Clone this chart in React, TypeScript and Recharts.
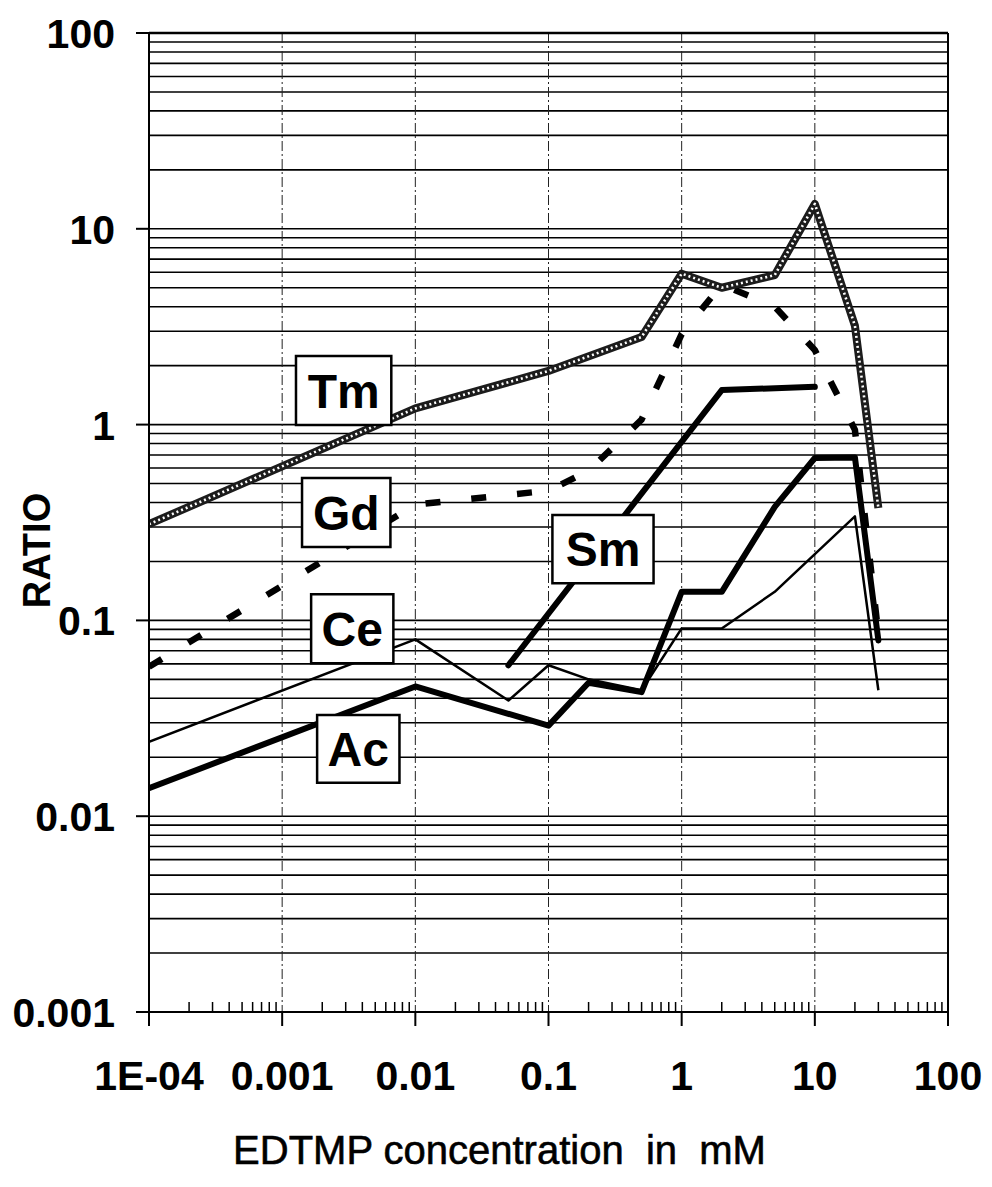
import React from "react";
import {
  CartesianGrid,
  Line,
  LineChart,
  ReferenceArea,
  ReferenceLine,
  XAxis,
  YAxis,
} from "recharts";

const FONT = "'Liberation Sans', Arial, Helvetica, sans-serif";

// axis ticks
const X_MAJOR = [0.0001, 0.001, 0.01, 0.1, 1, 10, 100];
const X_LABELS = ["1E-04", "0.001", "0.01", "0.1", "1", "10", "100"];
const Y_MAJOR = [0.001, 0.01, 0.1, 1, 10, 100];
const Y_LABELS = ["0.001", "0.01", "0.1", "1", "10", "100"];
const MINOR_STEPS = [2, 3, 4, 5, 6, 7, 8, 9];

// series (EDTMP mM -> ratio)
const TM_X = [0.0001, 0.01, 0.1, 0.5, 1, 2, 5, 10, 20, 30];
const TM_Y = [0.31, 1.21, 1.88, 2.8, 5.9, 5.0, 5.8, 13.4, 3.2, 0.375];

const GD_X = [0.0001, 0.01, 0.1, 0.2, 0.5, 1, 2, 5, 10, 20, 30];
const GD_Y = [0.058, 0.39, 0.46, 0.58, 1.06, 2.9, 5.2, 4.0, 2.4, 0.94, 0.085];

const SM_X = [0.05, 2, 10];
const SM_Y = [0.059, 1.5, 1.56];

const CE_X = [0.0001, 0.01, 0.05, 0.1, 0.2, 0.5, 1, 2, 5, 20, 30];
const CE_Y = [0.024, 0.08, 0.039, 0.059, 0.05, 0.044, 0.091, 0.091, 0.14, 0.34, 0.044];

const AC_X = [0.0001, 0.01, 0.1, 0.2, 0.5, 1, 2, 5, 10, 20, 30];
const AC_Y = [0.0139, 0.046, 0.029, 0.048, 0.043, 0.14, 0.14, 0.38, 0.675, 0.68, 0.079];

// series name boxes, in data units
const BOX_NAMES = ["Tm", "Gd", "Ce", "Ac", "Sm"];
const BOX_X = [
  [0.00127, 0.0066],
  [0.00141, 0.0065],
  [0.00165, 0.00684],
  [0.00183, 0.0076],
  [0.107, 0.615],
];
const BOX_Y = [
  [0.995, 2.24],
  [0.237, 0.533],
  [0.0605, 0.136],
  [0.0148, 0.0329],
  [0.155, 0.345],
];

const X_MINOR = X_MAJOR.slice(0, -1).flatMap((d) => MINOR_STEPS.map((m) => m * d));
const X_TICKS = [...X_MAJOR, ...X_MINOR].sort((a, b) => a - b);
const Y_GRID = [...Y_MAJOR, ...Y_MAJOR.slice(0, -1).flatMap((d) => MINOR_STEPS.map((m) => m * d))];

const pts = (xs: number[], ys: number[]) => xs.map((x, i) => ({ x, y: ys[i] }));

function XTick(props: any) {
  const { x, y, payload } = props;
  const i = X_MAJOR.indexOf(payload.value);
  if (i < 0) {
    return <line x1={x} x2={x} y1={y} y2={y - 10} stroke="#000" strokeWidth={1.5} />;
  }
  return (
    <g>
      <line x1={x} x2={x} y1={y} y2={y + 14} stroke="#000" strokeWidth={2} />
      <text x={x} y={y + 78} textAnchor="middle" fontSize={41} fontWeight={700} fontFamily={FONT} fill="#000">
        {X_LABELS[i]}
      </text>
    </g>
  );
}

function YTick(props: any) {
  const { x, y, payload } = props;
  const i = Y_MAJOR.indexOf(payload.value);
  return (
    <g>
      <line x1={x - 13} x2={x} y1={y} y2={y} stroke="#000" strokeWidth={2} />
      <text x={x - 34} y={y + 15} textAnchor="end" fontSize={41} fontWeight={700} fontFamily={FONT} fill="#000">
        {Y_LABELS[i]}
      </text>
    </g>
  );
}

export default function App() {
  return (
    <div style={{ position: "absolute", left: 0, top: 0, background: "#fff" }}>
      <LineChart width={992} height={1187} margin={{ top: 33, right: 44, bottom: 35, left: 0 }}>
        <CartesianGrid
          vertical={false}
          horizontalValues={Y_GRID}
          stroke="#000"
          strokeWidth={1.6}
        />
        <CartesianGrid
          horizontal={false}
          verticalValues={X_MAJOR.slice(1, -1)}
          stroke="#222"
          strokeWidth={1}
          strokeDasharray="10 3 2 3"
        />
        <XAxis
          type="number"
          dataKey="x"
          scale="log"
          domain={[0.0001, 100]}
          allowDataOverflow
          ticks={X_TICKS}
          interval={0}
          tickSize={0}
          tickMargin={0}
          tickLine={false}
          tick={(p: any) => <XTick {...p} />}
          axisLine={{ stroke: "#000", strokeWidth: 2 }}
          height={140}
          label={{
            content: (lp: any) => {
              const vb = lp.viewBox;
              return (
                <text
                  x={vb.x + vb.width / 2 - 49}
                  y={vb.y + 152}
                  textAnchor="middle"
                  fontSize={40}
                  fontFamily={FONT}
                  fill="#000"
                  stroke="#000"
                  strokeWidth={0.6}
                  style={{ whiteSpace: "pre" }}
                >
                  {"EDTMP concentration  in  mM"}
                </text>
              );
            },
          }}
        />
        <YAxis
          type="number"
          scale="log"
          domain={[0.001, 100]}
          allowDataOverflow
          ticks={Y_MAJOR}
          interval={0}
          width={149}
          tickSize={0}
          tickMargin={0}
          tickLine={false}
          tick={(p: any) => <YTick {...p} />}
          axisLine={{ stroke: "#000", strokeWidth: 2 }}
          label={{
            content: (lp: any) => {
              const vb = lp.viewBox;
              const cx = vb.x + 37;
              const cy = vb.y + vb.height / 2 + 28;
              return (
                <text
                  x={cx}
                  y={cy}
                  transform={`rotate(-90 ${cx} ${cy})`}
                  textAnchor="middle"
                  dominantBaseline="central"
                  fontSize={38}
                  fontWeight={700}
                  fontFamily={FONT}
                  fill="#000"
                >
                  RATIO
                </text>
              );
            },
          }}
        />
        <ReferenceLine x={100} stroke="#000" strokeWidth={2} />
        <ReferenceLine y={100} stroke="#000" strokeWidth={2.5} />

        <Line data={pts(CE_X, CE_Y)} dataKey="y" stroke="#000" strokeWidth={2.5} dot={false} isAnimationActive={false} strokeLinejoin="round" />
        <Line data={pts(AC_X, AC_Y)} dataKey="y" stroke="#000" strokeWidth={6} dot={false} isAnimationActive={false} strokeLinejoin="round" strokeLinecap="round" />
        <Line data={pts(SM_X, SM_Y)} dataKey="y" stroke="#000" strokeWidth={6} dot={false} isAnimationActive={false} strokeLinejoin="round" strokeLinecap="round" />
        <Line data={pts(GD_X, GD_Y)} dataKey="y" stroke="#000" strokeWidth={6.5} strokeDasharray="15 31" dot={false} isAnimationActive={false} />
        <Line data={pts(TM_X, TM_Y)} dataKey="y" stroke="#1c1c1c" strokeWidth={8} dot={false} isAnimationActive={false} strokeLinejoin="round" />
        <Line data={pts(TM_X, TM_Y)} dataKey="y" stroke="#fff" strokeWidth={2.6} strokeDasharray="2 3" dot={false} isAnimationActive={false} strokeLinejoin="round" />

        {BOX_NAMES.map((name, i) => (
          <ReferenceArea
            key={name}
            x1={BOX_X[i][0]}
            x2={BOX_X[i][1]}
            y1={BOX_Y[i][0]}
            y2={BOX_Y[i][1]}
            fill="#fff"
            fillOpacity={1}
            stroke="#000"
            strokeWidth={2.5}
            zIndex={1000}
            label={{
              value: name,
              position: "center",
              fontSize: 48,
              fontWeight: 700,
              fontFamily: FONT,
              fill: "#000",
            }}
          />
        ))}
      </LineChart>
    </div>
  );
}
